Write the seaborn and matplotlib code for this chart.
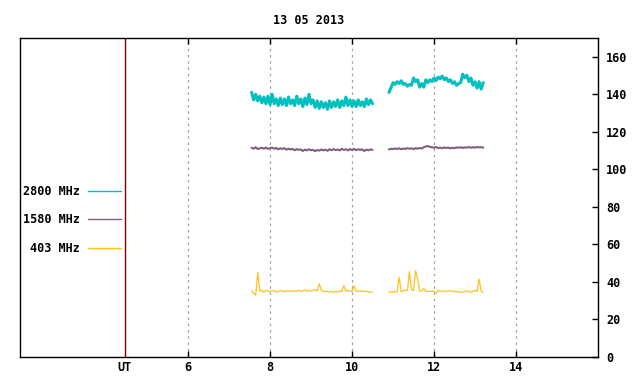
import numpy as np
import pandas as pd
import matplotlib
matplotlib.use("Agg")
import matplotlib.pyplot as plt
import seaborn as sns

title = "13 05 2013"
bands = ["2800 MHz", "1580 MHz", "403 MHz"]
colors = {"2800 MHz": "#00c0c0", "1580 MHz": "#7f5f7f", "403 MHz": "#ffc020"}
widths = {"2800 MHz": 2.2, "1580 MHz": 1.5, "403 MHz": 0.9}

# UT hours (sampling grid of the two recording segments)
t_seg1 = np.round(np.arange(7.55, 10.501, 0.05), 2)
t_seg2 = np.round(np.arange(10.90, 13.201, 0.05), 2)

f2800_seg1 = [141, 137, 140, 136.5, 139, 135.5, 138.5, 135, 139, 134.5,
              140, 135, 137.5, 134, 138, 134.5, 137.5, 134, 138.5, 135,
              137, 134, 139, 135, 137.5, 133.5, 138, 134.5, 140, 135,
              137, 133, 136.5, 132.5, 136, 133, 135.5, 132, 136.5, 133,
              136, 133.5, 137, 133, 136.5, 134, 138.5, 134, 137, 133.5,
              136.5, 133.5, 137, 134, 136, 133.5, 137.5, 134.5, 137, 135]
f2800_seg2 = [141, 143.5, 146.2, 145.3, 146.7, 145.8, 147.2, 145.3, 145.7, 144.3,
              145.2, 144.8, 148.7, 146.8, 147.7, 143.8, 145.7, 143.8, 147.7, 146.3,
              147.7, 146.8, 148.7, 147.3, 149.2, 148.3, 149.7, 147.8, 148.7, 146.8,
              147.7, 145.8, 146.7, 144.8, 145.7, 146.3, 150.7, 148.8, 150.2, 146.8,
              148.7, 144.8, 146.7, 143.3, 146.7, 142.8, 146.2]

f1580_seg1 = [111.5, 111, 111.8, 110.8, 111.2, 111.5, 111, 111.6, 110.9, 111.3,
              111.6, 111, 111.4, 110.7, 111.2, 110.9, 111.3, 110.5, 111, 110.6,
              110.9, 110.2, 110.8, 110.4, 110.6, 109.8, 110.5, 110.1, 110.7, 110.2,
              110.4, 109.7, 110.3, 110, 110.6, 110.1, 110.5, 109.9, 110.7, 110.2,
              110.8, 110.3, 110.6, 110.1, 110.9, 110.4, 110.7, 110.1, 110.8, 110.3,
              110.9, 110.2, 110.7, 110.4, 110.6, 109.8, 110.5, 110.2, 110.6, 110.4]
f1580_seg2 = [110.6, 111, 110.8, 111.1, 110.9, 111.2, 110.7, 111.1, 110.9, 111.3,
              111, 111.2, 110.8, 111.3, 111, 111.4, 111.1, 111.8, 112.2, 112.4,
              112, 111.8, 111.5, 111.9, 111.3, 111.6, 111.2, 111.7, 111.4, 111.6,
              111.2, 111.5, 111.3, 111.7, 111.5, 111.8, 111.4, 111.7, 111.6, 111.9,
              111.5, 111.8, 111.6, 111.9, 111.7, 111.8, 111.6]

f403_seg1 = [35.5, 34, 33, 45, 35, 35.5, 34.5, 35.5, 35, 35,
             35.2, 35.5, 34.5, 35, 35.5, 35, 35, 35.2, 35, 35.3,
             35, 35.2, 35, 35.5, 35, 35.2, 35.8, 35, 35.5, 35.2,
             35.5, 36, 35.2, 39, 35.5, 35, 34.8, 35, 34.5, 35,
             34.5, 35, 34.6, 35.2, 35, 38, 35, 35.5, 35.2, 35,
             38, 35, 35.2, 35, 35.3, 35, 35, 34.8, 34.5, 34.8]
f403_seg2 = [34.7, 34.7, 34.7, 34.7, 34.7, 42.5, 34.7, 35.5, 35.5, 35.5,
             45.5, 36, 35.5, 46, 41.5, 35.2, 35, 36.5, 35, 35,
             35, 35, 35, 34, 35.5, 35, 35.2, 35, 35, 35.5,
             35, 35.2, 34.8, 35, 34.5, 34.7, 34.5, 35, 35.2, 34.8,
             34.5, 35, 35.5, 35, 41.5, 35, 34.5]

x_ticks = [6, 8, 10, 12, 14]
ut_pos = 4.46
y_ticks = [0, 20, 40, 60, 80, 100, 120, 140, 160]

series = {
    "2800 MHz": (f2800_seg1, f2800_seg2),
    "1580 MHz": (f1580_seg1, f1580_seg2),
    "403 MHz": (f403_seg1, f403_seg2),
}
rows = []
for band, (s1, s2) in series.items():
    for t, v in zip(t_seg1, s1):
        rows.append((t, v, band, 1))
    for t, v in zip(t_seg2, s2):
        rows.append((t, v, band, 2))
df = pd.DataFrame(rows, columns=["UT", "flux", "band", "segment"])

sns.set_theme(style="white")
plt.rcParams["font.family"] = ["DejaVu Sans Mono"]
plt.rcParams["font.weight"] = "bold"
plt.rcParams["text.color"] = "black"
plt.rcParams["xtick.color"] = "black"
plt.rcParams["ytick.color"] = "black"

fig = plt.figure(figsize=(6.4, 3.84), dpi=100)
ax = fig.add_axes([20 / 640, 27 / 384, 578 / 640, 319 / 384])

for band in bands:
    sns.lineplot(data=df[df["band"] == band], x="UT", y="flux", units="segment",
                 estimator=None, color=colors[band], linewidth=widths[band],
                 ax=ax, sort=True, label=band)

ax.set_xlim(1.9, 16.0)
ax.set_ylim(0, 170)

for xv in x_ticks:
    ax.axvline(xv, color="#a0a0a0", linewidth=0.9, linestyle=(0, (2, 3)), zorder=0)
ax.axvline(ut_pos, color="#800000", linewidth=1.0, zorder=1)

ax.set_xticks([ut_pos] + x_ticks)
ax.set_xticklabels(["UT"] + [str(v) for v in x_ticks])
ax.tick_params(axis="x", direction="in", length=4, width=1, color="black",
               labelcolor="black", top=True, bottom=True, labelsize=8.5, pad=3)
ax.yaxis.tick_right()
ax.set_yticks(y_ticks)
ax.tick_params(axis="y", direction="in", length=4, width=1, color="black",
               labelcolor="black", right=True, left=False, labelsize=8.5, pad=6)
xt = ax.xaxis.get_major_ticks()
xt[0].tick1line.set_visible(False)
xt[0].tick2line.set_visible(False)
for lab in ax.get_xticklabels() + ax.get_yticklabels():
    lab.set_fontweight("bold")

for sp in ax.spines.values():
    sp.set_color("black")
    sp.set_linewidth(1.0)

ax.set_xlabel("")
ax.set_ylabel("")
ax.set_title(title, fontsize=8.5, fontweight="bold", pad=10, color="black")

handles, labels = ax.get_legend_handles_labels()
uniq = {}
for h, l in zip(handles, labels):
    if l not in uniq:
        uniq[l] = h
leg = ax.legend([uniq[b] for b in bands], bands, loc="center right",
                bbox_to_anchor=(0.193, 0.43), markerfirst=False, frameon=False,
                fontsize=8.5, handlelength=2.8, labelspacing=1.3,
                handletextpad=0.68)
for ln in leg.get_lines():
    ln.set_linewidth(1.0)
for txt in leg.get_texts():
    txt.set_fontweight("bold")
    txt.set_color("black")

fig.savefig("out.png", dpi=100)
